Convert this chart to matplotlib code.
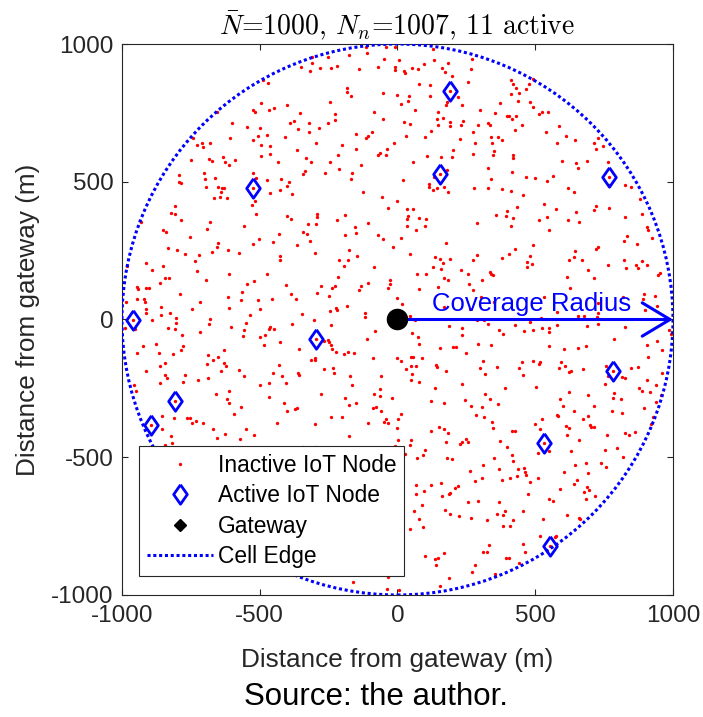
import numpy as np
import matplotlib
matplotlib.use('Agg')
import matplotlib.pyplot as plt
from matplotlib.lines import Line2D
from matplotlib.patches import Circle

plt.rcParams['font.family'] = ['Liberation Sans', 'DejaVu Sans']
plt.rcParams['mathtext.fontset'] = 'cm'
plt.rcParams['axes.unicode_minus'] = False

radius = 1000        # coverage radius (m)
mean_nodes = 1000    # N bar
n_nodes = 1007       # N_n

# active IoT nodes (m)
active_x = [190, -524, 156, 769, -960, -295, 781, -808, -895, 532, 553]
active_y = [831, 477, 528, 518, -3, -71, -188, -296, -382, -449, -824]

# all IoT node positions (m)
inactive_nodes = np.array([
    # north-west
    (-526, 762), (-517, 752), (-655, 752), (-602, 713), (-545, 699), (-500, 696), (-505, 667),
    (-607, 660), (-523, 650), (-741, 660), (-681, 639), (-728, 635), (-710, 639), (-706, 627),
    (-748, 578), (-683, 581), (-675, 577), (-635, 591), (-627, 570), (-613, 561), (-590, 579),
    (-792, 526), (-701, 531), (-698, 510), (-664, 512), (-523, 531), (-792, 499), (-787, 494),
    (-694, 480), (-652, 482), (-637, 476), (-630, 477), (-642, 464), (-524, 477), (-514, 515),
    (-667, 441), (-644, 445), (-619, 440), (-516, 429), (-529, 416), (-808, 412), (-821, 388),
    (-806, 384), (-514, 383), (-786, 360), (-681, 355), (-556, 341), (-930, 353),
    (-470, 860), (-489, 869), (-309, 952), (-251, 952), (-176, 959), (-112, 966), (-114, 988),
    (-42, 988), (-9, 988), (-310, 932), (-349, 918), (-319, 901), (-280, 913), (-240, 913),
    (-221, 919), (-141, 909), (-71, 917), (-48, 944), (-10, 917), (-8, 906), (-182, 839),
    (-182, 825), (-170, 812), (-51, 823), (-3, 816), (-495, 786), (-402, 777), (-245, 791),
    (-466, 760), (-449, 768), (-353, 750), (-228, 745), (-86, 752), (-226, 725), (-389, 713),
    (-377, 720), (-321, 713), (-252, 713), (-51, 729), (-360, 693), (-320, 681), (-284, 696),
    (-472, 671), (-409, 661), (-152, 672), (-113, 659), (-107, 667), (-92, 681), (-296, 641),
    (-200, 632), (-14, 639), (-494, 633), (-461, 630), (-363, 614), (-151, 620), (-37, 618),
    (-62, 606), (-72, 596), (-42, 598), (-497, 593), (-461, 599), (-215, 598), (-332, 587),
    (-434, 570), (-313, 572), (-244, 570), (-131, 560), (-213, 546), (-337, 539), (-343, 527),
    (-262, 531), (-166, 533), (-167, 509), (-472, 508), (-422, 509), (-393, 500), (-400, 483),
    (-426, 469), (-464, 458), (-384, 457), (-124, 464), (-56, 443), (-1, 429), (-33, 406),
    (-402, 376), (-388, 364), (-292, 383), (-292, 371), (-189, 378), (-218, 360), (-326, 345),
    (-296, 345), (-108, 351), (-153, 336),
    # north-east
    (128, 983), (7, 942), (24, 902), (29, 895), (52, 912), (76, 908), (96, 926), (134, 943),
    (182, 931), (163, 912), (171, 897), (199, 885), (272, 946), (267, 908), (256, 861),
    (79, 854), (119, 852), (190, 831), (221, 806), (41, 810), (40, 792), (118, 810), (14, 781),
    (181, 789), (175, 777), (236, 777), (65, 760), (146, 753), (145, 728), (167, 731),
    (191, 717), (237, 722), (25, 717), (46, 710), (148, 707), (192, 701), (231, 706),
    (294, 706), (298, 762), (329, 712), (337, 707), (355, 748), (372, 785), (399, 737),
    (406, 737), (416, 727), (430, 737), (452, 706), (427, 688), (413, 871), (421, 854),
    (432, 841), (440, 823), (465, 835), (479, 855), (491, 874), (412, 819), (439, 793),
    (480, 789), (492, 771), (31, 666), (99, 662), (121, 685), (275, 682), (227, 654),
    (280, 639), (341, 664), (365, 661), (381, 652), (342, 642), (202, 614), (199, 591),
    (158, 591), (107, 592), (273, 602), (352, 612), (348, 598), (421, 596), (421, 586),
    (55, 573), (327, 549), (179, 541), (417, 537), (468, 517), (500, 515), (133, 518),
    (156, 528), (115, 491), (113, 482), (129, 470), (145, 476), (168, 480), (185, 463),
    (277, 476), (329, 476), (340, 509), (381, 472), (413, 465), (455, 453), (19, 508),
    (434, 408), (399, 394), (395, 377), (421, 368), (359, 378), (290, 350), (33, 400),
    (56, 401), (38, 376), (35, 366), (79, 368), (102, 364), (101, 341), (33, 339), (412, 339),
    (526, 754), (548, 754), (515, 745), (585, 704), (538, 679), (611, 667), (580, 639),
    (646, 650), (727, 658), (715, 639), (722, 618), (745, 629), (596, 574), (647, 568),
    (654, 549), (688, 575), (764, 573), (541, 503), (566, 520), (769, 518), (769, 489),
    (825, 488), (849, 480), (618, 477), (639, 462), (879, 439), (533, 418), (576, 401),
    (649, 389), (721, 411), (712, 399), (769, 405), (889, 382), (826, 373), (515, 362),
    (543, 372), (619, 360), (658, 353), (907, 336),
    # west, middle band
    (-852, 324), (-840, 319), (-693, 328), (-752, 298), (-650, 276), (-656, 264), (-526, 274),
    (-501, 292), (-833, 258), (-800, 252), (-773, 239), (-720, 234), (-675, 244), (-614, 251),
    (-574, 240), (-913, 206), (-851, 196), (-736, 211), (-981, 194), (-892, 180), (-728, 175),
    (-610, 165), (-844, 150), (-828, 149), (-694, 144), (-861, 132), (-944, 118), (-942, 111),
    (-912, 113), (-902, 115), (-520, 141), (-547, 128), (-563, 101), (-791, 91), (-985, 63),
    (-947, 74), (-919, 75), (-917, 65), (-716, 63), (-614, 82), (-568, 71), (-506, 71),
    (-860, 44), (-913, 39), (-746, 38), (-610, 43), (-500, 39), (-912, 22), (-860, 17),
    (-825, 22), (-803, 4), (-805, -14), (-679, 0), (-684, -15), (-535, 15), (-550, -14),
    (-960, -3), (-892, -3), (-952, -36), (-989, -30), (-833, -31), (-806, -35), (-716, -46),
    (-606, -29), (-556, -38), (-562, -59), (-783, -58), (-500, -65), (-878, -88), (-779, -98),
    (-924, -96), (-785, -112), (-630, -111), (-947, -123), (-866, -122), (-815, -125),
    (-687, -130), (-653, -136), (-668, -146), (-693, -163), (-629, -157), (-621, -170),
    (-844, -159), (-863, -169), (-577, -185), (-913, -188), (-641, -188), (-558, -204),
    (-844, -200), (-837, -213), (-771, -200), (-688, -211), (-723, -221), (-777, -227),
    (-863, -232), (-956, -237), (-500, -239), (-950, -261), (-613, -261), (-659, -272),
    (-619, -290), (-610, -302), (-567, -319), (-808, -296),
    (-431, 311), (-342, 316), (-327, 309), (-316, 286), (-451, 280), (-365, 272), (-189, 308),
    (-152, 313), (-72, 305), (-51, 293), (-17, 264), (-299, 241), (-175, 252), (-148, 232),
    (-426, 232), (-426, 215), (-212, 215), (-180, 217), (-194, 195), (-86, 190), (-472, 165),
    (-403, 124), (-278, 120), (-236, 113), (-227, 120), (-132, 120), (-141, 107), (-107, 132),
    (-26, 142), (-28, 129), (-36, 114), (-293, 97), (-386, 94), (-249, 86), (-370, 75),
    (-457, 74), (-216, 155), (-2, 79), (-222, 43), (-218, 34), (-244, 31), (-182, 50),
    (-345, 21), (-118, 23), (-119, 9), (-304, -3), (-382, -18), (-461, -26), (-449, -33),
    (-466, -36), (-241, -21), (-480, -56), (-295, -71), (-265, -79), (-253, -73), (-247, -82),
    (-240, -92), (-239, -106), (-109, -70), (-82, -43), (-426, -81), (-486, -92), (-359, -106),
    (-222, -119), (-193, -127), (-180, -117), (-159, -123), (-90, -141), (-314, -146),
    (-299, -141), (-299, -147), (-431, -164), (-265, -181), (-233, -177), (-230, -194),
    (-360, -196), (-359, -200), (-452, -196), (-419, -204), (-171, -206), (-60, -206),
    (-1, -139), (-465, -231), (-406, -232), (-164, -236), (-63, -254), (-276, -271),
    (-86, -272), (-63, -278), (-465, -280), (-189, -285), (-21, -285), (-413, -303),
    (-176, -309), (-149, -304), (-79, -317), (-88, -323), (-373, -325), (-366, -323),
    (-61, -332), (-400, -332),
    # east, middle band
    (69, 326), (12, 296), (177, 276), (47, 239), (136, 228), (153, 218), (167, 204), (192, 218),
    (129, 192), (158, 184), (288, 234), (273, 217), (380, 224), (405, 239), (428, 256),
    (480, 229), (492, 269), (469, 207), (470, 192), (490, 200), (72, 165), (104, 165),
    (170, 152), (184, 144), (232, 178), (256, 164), (307, 144), (335, 171), (341, 165),
    (346, 161), (261, 130), (275, 106), (146, 119), (79, 112), (17, 57), (168, 46), (303, 82),
    (350, 62), (263, 39), (46, 11), (65, -2), (289, -2), (314, -2), (327, -15), (187, -25),
    (236, -31), (236, -55), (426, -21), (367, -38), (382, -54), (461, -41), (480, -10),
    (493, -37), (53, -49), (76, -62), (78, -89), (156, -105), (203, -101), (211, -101),
    (294, -90), (338, -92), (248, -122), (90, -141), (13, -150), (50, -135), (56, -135),
    (48, -168), (69, -168), (141, -167), (145, -171), (31, -181), (52, -198), (177, -188),
    (301, -176), (309, -150), (363, -171), (317, -198), (452, -156), (442, -177), (456, -202),
    (493, -150), (50, -221), (77, -226), (236, -235), (136, -250), (389, -249), (502, -245),
    (317, -271), (335, -289), (121, -295), (170, -302), (245, -292), (266, -315), (308, -319),
    (364, -307),
    (549, 324), (832, 302), (821, 284), (870, 275), (911, 324), (924, 296), (728, 263),
    (721, 256), (643, 250), (641, 226), (622, 216), (668, 216), (763, 199), (824, 215),
    (864, 199), (888, 213), (904, 199), (831, 188), (874, 186), (692, 178), (616, 154),
    (715, 150), (946, 163), (954, 170), (628, 114), (533, 80), (895, 94), (890, 75), (933, 84),
    (818, 82), (899, 33), (941, 48), (728, 59), (728, 25), (723, 10), (654, 11), (676, 11),
    (580, 26), (521, 5), (526, -31), (549, -31), (551, -47), (580, -20), (688, -24),
    (729, -18), (826, -27), (987, -39), (994, -52), (787, -72), (942, -77), (904, -93),
    (551, -95), (605, -106), (655, -104), (686, -98), (960, -111), (911, -135), (519, -156),
    (515, -160), (595, -156), (607, -169), (585, -177), (622, -192), (630, -186), (672, -181),
    (758, -168), (764, -206), (815, -209), (827, -214), (847, -175), (874, -171), (960, -193),
    (907, -219), (939, -237), (753, -235), (786, -268), (784, -284), (623, -265), (876, -250),
    (888, -258), (918, -263), (693, -273), (591, -288), (812, -290), (956, -273), (601, -314),
    (715, -315), (937, -300), (896, -323), (642, -331), (778, -331), (781, -188),
    # south-west
    (-895, -382), (-854, -352), (-812, -358), (-763, -359), (-753, -358), (-730, -367),
    (-746, -377), (-706, -376), (-855, -399), (-821, -424), (-843, -456), (-820, -450),
    (-671, -399), (-655, -429), (-627, -415), (-595, -344), (-572, -435), (-549, -398),
    (-520, -421),
    (-439, -375), (-301, -380), (-242, -354), (-203, -353), (-175, -423), (-108, -375),
    (-49, -371), (-34, -374), (-42, -360), (-3, -394), (-8, -458), (1, -438), (-342, -464),
    (-297, -464), (-161, -954), (-39, -978), (-34, -934),
    # south-east
    (14, -342), (2, -360), (284, -347), (313, -355), (344, -372), (347, -395), (123, -405),
    (152, -390), (170, -398), (185, -411), (176, -444), (228, -452), (234, -445), (250, -434),
    (257, -446), (50, -436), (47, -456), (99, -473), (93, -491), (72, -501), (29, -490),
    (179, -504), (199, -505), (349, -502), (373, -440), (398, -463), (416, -406), (428, -404),
    (416, -493), (421, -515), (499, -381), (311, -528), (265, -551), (370, -544), (381, -582),
    (305, -576), (280, -586), (407, -574), (435, -568), (439, -544), (459, -538), (462, -554),
    (468, -563), (481, -590), (474, -632), (69, -602), (69, -635), (95, -624), (123, -599),
    (159, -594), (163, -639), (187, -635), (191, -629), (209, -613), (220, -603), (90, -672),
    (256, -661), (292, -659), (370, -661), (60, -697), (173, -693), (192, -707), (222, -712),
    (268, -721), (326, -729), (360, -707), (384, -711), (389, -694), (418, -728), (457, -694),
    (78, -726), (94, -752), (46, -761), (383, -751), (409, -751), (332, -820), (309, -844),
    (326, -844), (456, -814), (463, -844), (99, -858), (135, -868), (148, -864), (168, -849),
    (141, -891), (280, -891), (269, -918), (186, -939), (153, -966), (353, -924), (395, -866),
    (405, -867), (442, -883), (7, -981),
    (526, -363), (518, -398), (579, -346), (583, -352), (672, -363), (693, -352), (815, -340),
    (698, -382), (704, -389), (715, -389), (613, -388), (622, -394), (617, -418), (658, -438),
    (761, -418), (825, -411), (839, -419), (862, -410), (532, -449), (551, -479), (509, -484),
    (631, -478), (753, -472), (798, -465), (818, -499), (686, -521), (643, -530), (739, -520),
    (758, -537), (606, -553), (693, -559), (511, -576), (653, -582), (642, -596), (687, -608),
    (676, -625), (695, -620), (718, -640), (591, -614), (551, -653), (565, -660), (683, -653),
    (614, -710), (659, -720), (664, -726), (528, -724), (516, -787), (570, -790), (577, -785),
    (553, -824), (920, -378), (926, -354),
])

blue = (0, 0, 1)
edge_dots = (0, (1, 0.9))
# diamond a bit taller than wide
diamond = [(0, 1), (0.7, 0), (0, -1), (-0.7, 0), (0, 1)]

fig = plt.figure(figsize=(7.03, 7.17), dpi=100)
ax = fig.add_axes([0.1735, 0.1702, 0.7838, 0.7684])

# every node as a small red dot, active ones get a blue diamond on top
ax.plot(inactive_nodes[:, 0], inactive_nodes[:, 1], 'o', color='red', ms=2.4, mew=0, zorder=2)
ax.plot(active_x, active_y, ls='none', marker=diamond, mfc='none', mec=blue, ms=14, mew=2,
        zorder=3)

# cell edge
ax.add_patch(Circle((0, 0), radius, fill=False, ec=blue, lw=2.2, ls=edge_dots, zorder=4))

# coverage radius arrow + gateway
ax.annotate('', xy=(radius, 0), xytext=(0, 0),
            arrowprops=dict(arrowstyle='->,head_length=2.0,head_width=1.2', color=blue,
                            lw=2.2, shrinkA=0, shrinkB=0, mutation_scale=10), zorder=4)
ax.text(radius * 0.488, 12, 'Coverage Radius', color=blue, fontsize=18.5, ha='center', va='bottom')
ax.plot(0, 0, 'o', color='black', ms=14.5, zorder=5)

ax.set_xlim(-radius, radius)
ax.set_ylim(-radius, radius)
ticks = [-1000, -500, 0, 500, 1000]
ax.set_xticks(ticks)
ax.set_yticks(ticks)
ax.tick_params(direction='in', top=True, right=True, length=4.3, width=0.8,
               labelsize=17.5, colors='#262626')
ax.tick_params(axis='x', pad=7)
ax.tick_params(axis='y', pad=6)
for s in ax.spines.values():
    s.set_color('#262626')
    s.set_linewidth(0.8)

ax.set_xlabel('Distance from gateway (m)', fontsize=18.8, color='#262626', labelpad=15)
ax.set_ylabel('Distance from gateway (m)', fontsize=18.8, color='#262626', labelpad=8)
ax.set_title(rf'$\bar{{N}}$={mean_nodes}, $N_n$={n_nodes}, {len(active_x)} active',
             fontfamily='cmr10', fontsize=20, pad=7)

handles = [
    Line2D([], [], ls='none', marker='o', color='red', ms=2.4, mew=0),
    Line2D([], [], ls='none', marker=diamond, mfc='none', mec=blue, ms=14, mew=2),
    Line2D([], [], ls='none', marker='D', color='black', ms=6),
    Line2D([], [], color=blue, lw=2.2, ls=edge_dots),
]
labels = ['Inactive IoT Node', 'Active IoT Node', 'Gateway', 'Cell Edge']
leg = ax.legend(handles, labels, loc='lower left', bbox_to_anchor=(0.031, 0.0345),
                borderaxespad=0, fontsize=16.4, handlelength=2.9, labelspacing=0.32,
                fancybox=False, framealpha=1, edgecolor='#262626', borderpad=0.35,
                handletextpad=0.2)
leg.get_frame().set_linewidth(0.8)
leg.set_zorder(10)

fig.text(376 / 703, 1 - 697 / 717, 'Source: the author.', fontsize=22.5, ha='center', va='center')

fig.savefig('out.png', dpi=100)
